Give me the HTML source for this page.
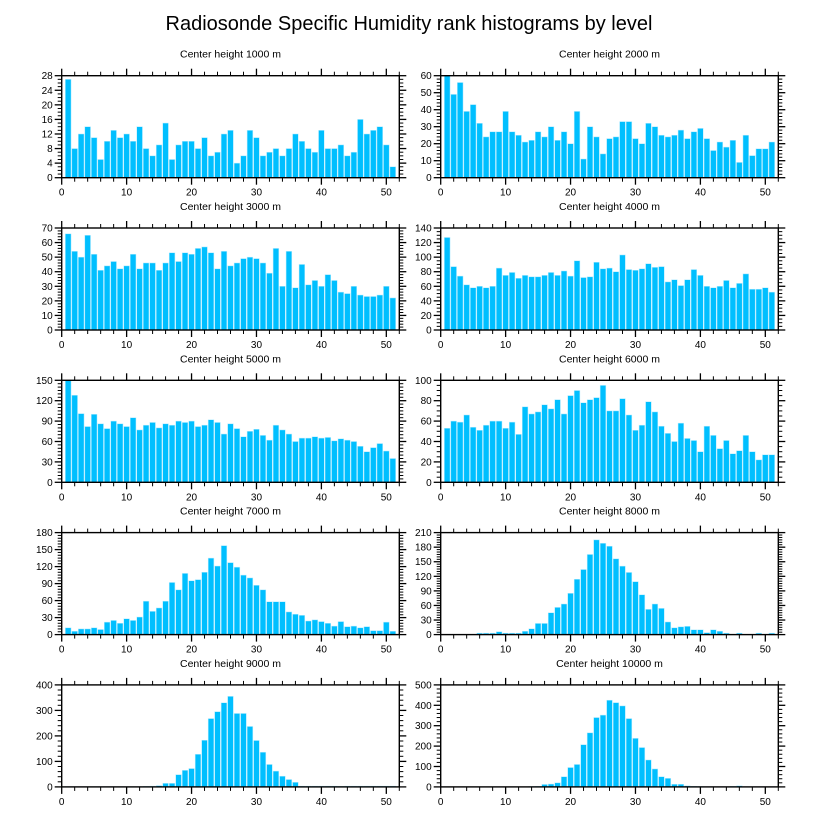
<!DOCTYPE html>
<html><head><meta charset="utf-8">
<style>
html,body{margin:0;padding:0;background:#fff;}
svg{display:block;font-family:"Liberation Sans",sans-serif;}
</style></head>
<body>
<svg id="chart" width="818" height="824" viewBox="0 0 818 824" xmlns="http://www.w3.org/2000/svg">
<text x="409" y="30" text-anchor="middle" font-size="20">Radiosonde Specific Humidity rank histograms by level</text>
</svg>
<script>
const levels = ["1000","2000","3000","4000","5000","6000","7000","8000","9000","10000"];
const yMaxes = [28,60,70,140,150,100,180,210,400,500];
const yMajors = [4,10,10,20,30,20,30,30,100,100];
const xTicks = [0,10,20,30,40,50];
const h1000 = [27,8,12,14,11,5,10,13,11,12,10,14,8,6,9,15,5,9,10,10,8,11,6,7,12,13,4,6,13,11,6,7,8,6,8,12,10,8,7,13,8,8,9,6,7,16,12,13,14,9,3];
const h2000 = [60,49,56,39,43,32,24,27,27,39,27,25,21,22,27,24,30,22,27,20,39,11,30,24,14,23,24,33,33,23,20,32,30,25,24,25,28,23,27,29,23,16,21,18,22,9,25,13,17,17,21];
const h3000 = [66,54,50,65,52,41,44,47,42,44,52,42,46,46,41,46,53,47,53,52,56,57,53,42,54,44,46,49,50,49,46,39,56,30,54,29,45,31,34,30,38,34,26,25,30,24,23,23,24,30,22];
const h4000 = [127,87,74,62,58,60,58,60,85,75,79,71,75,73,73,75,79,75,81,74,95,72,73,93,84,85,80,103,83,82,84,91,86,87,66,69,61,69,83,75,60,58,60,68,58,64,77,56,56,58,52];
const h5000 = [150,128,101,82,100,86,79,90,86,82,95,77,84,88,80,86,84,90,88,90,82,84,92,88,71,86,79,67,75,78,69,62,84,77,71,60,65,65,67,65,66,61,64,62,60,53,45,51,57,46,35];
const h6000 = [53,60,59,66,54,51,56,60,60,53,59,47,74,67,69,76,72,81,67,85,90,78,81,83,95,70,70,82,66,51,56,79,69,55,48,40,58,43,41,30,55,46,33,41,28,31,46,30,22,27,27];
const h7000 = [12,6,10,10,12,9,22,25,20,28,25,31,59,41,47,59,92,79,108,95,97,110,135,121,157,127,119,105,100,87,79,58,58,58,40,36,34,24,26,23,20,15,23,14,15,12,14,7,7,22,6];
const h8000 = [0,0,0,0,0,3,3,3,6,3,3,3,7,12,23,23,45,56,63,85,114,134,165,195,188,182,156,141,128,109,82,52,63,54,26,14,16,17,10,10,4,10,7,3,0,3,0,0,3,0,3];
const h9000 = [1,1,1,1,1,1,1,1,1,1,1,1,2,3,5,14,14,48,65,72,128,183,268,295,330,355,288,288,237,182,136,88,62,42,29,18,3,3,3,3,3,3,2,3,3,3,3,3,3,3,3];
const h10000 = [0,0,0,0,0,0,0,0,0,0,0,0,0,2,3,12,14,20,50,95,110,207,265,340,352,425,413,397,335,238,193,132,88,50,42,13,13,5,3,2,1,1,1,1,3,5,1,1,1,1,1];
const series = [h1000,h2000,h3000,h4000,h5000,h6000,h7000,h8000,h9000,h10000];

const NS = "http://www.w3.org/2000/svg";
const svg = document.getElementById("chart");
function mk(tag, attrs, parent){ const e=document.createElementNS(NS,tag); for(const k in attrs) e.setAttribute(k,attrs[k]); (parent||svg).appendChild(e); return e; }

const W = 337.6, H = 102, XMAX = 52;
for(let p=0;p<10;p++){
  const col=p%2, row=Math.floor(p/2);
  const x0 = col===0 ? 61.7 : 440.7;
  const y0 = 75.7 + row*152.3;
  const g = mk("g",{});
  
  
  const xs = v => x0 + v/XMAX*W;
  const ys = v => y0 + H - v/yMaxes[p]*H;
  const t = mk("text",{x:x0+W/2,y:y0-18,"text-anchor":"middle","font-size":"10.5"},g);
  t.textContent = "Center height " + levels[p] + " m";
  
  
  const d = series[p];
  for(let i=0;i<d.length;i++){
    const v=d[i]; if(v<=0) continue;
    const r = mk("rect",{x:xs(i+1)-0.44*W/XMAX, y:ys(v), width:0.88*W/XMAX, height:ys(0)-ys(v), fill:"#00bfff", stroke:"#b8ecff","stroke-width":"0.5"},g);
    
    
  }
  const fr = mk("rect",{x:x0,y:y0,width:W,height:H,fill:"none",stroke:"#000","stroke-width":"1.4"},g);
  
  
  // x ticks
  for(let v=0; v<=XMAX; v+=2){
    const major = v%10===0;
    const L = major?7:4;
    const xx = xs(v);
    mk("line",{x1:xx,y1:y0+H,x2:xx,y2:y0+H+L,stroke:"#000","stroke-width":major?1.3:1},g);
    mk("line",{x1:xx,y1:y0,x2:xx,y2:y0-L,stroke:"#000","stroke-width":major?1.3:1},g);
  }
  for(const v of xTicks){
    const tl = mk("text",{x:xs(v),y:y0+H+18,"text-anchor":"middle","font-size":"10"},g);
    tl.textContent = v;
    
    
  }
  // y ticks
  const mj = yMajors[p];
  const nsub = (mj%4===0 && mj<=20) ? 4 : (mj===30?6:5);
  const step = mj/nsub;
  for(let k=0; k*step<=yMaxes[p]+1e-6; k++){
    const v=k*step, major = k%nsub===0, L=major?7:4, yy=ys(v);
    mk("line",{x1:x0,y1:yy,x2:x0-L,y2:yy,stroke:"#000","stroke-width":major?1.3:1},g);
    mk("line",{x1:x0+W,y1:yy,x2:x0+W+L,y2:yy,stroke:"#000","stroke-width":major?1.3:1},g);
    if(major){
      const yl = mk("text",{x:x0-9,y:yy+3.5,"text-anchor":"end","font-size":"10"},g);
      yl.textContent = v;
      
      
    }
  }
}
</script>
</body></html>
